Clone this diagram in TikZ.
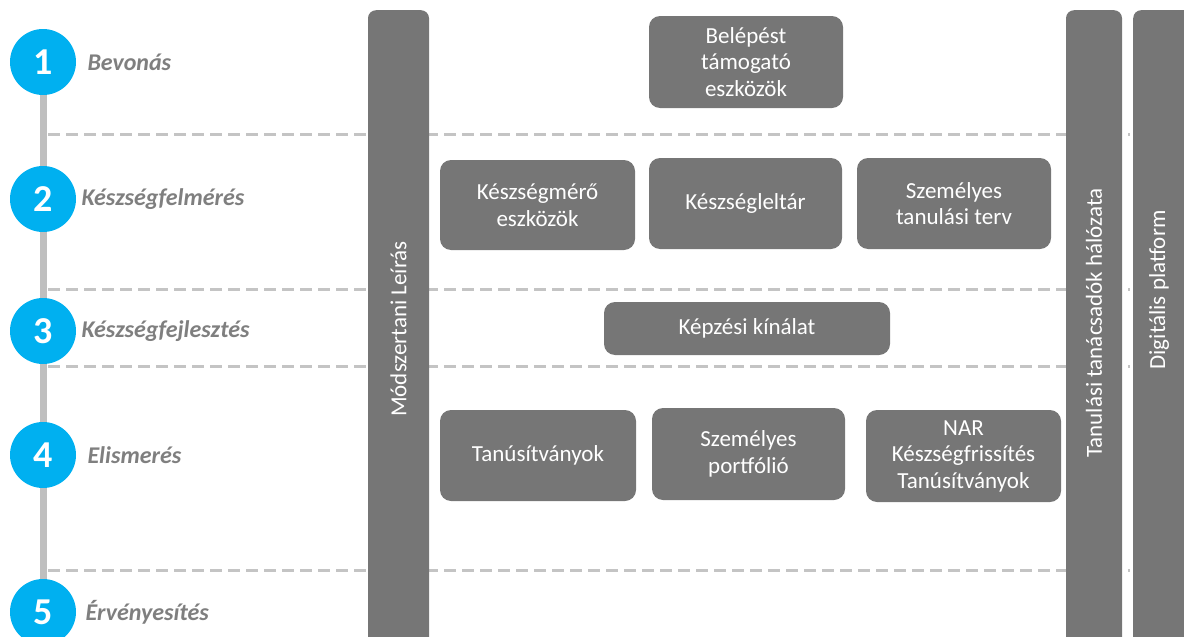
\documentclass[tikz,border=0pt]{standalone}
\usepackage{fontspec}
\setmainfont{Carlito}
\begin{document}
\begin{tikzpicture}[x=1pt,y=-1pt,
  stepcircle/.style={circle,fill=stepblue,minimum size=66pt,inner sep=0pt,
    text=white,font=\fontsize{38}{40}\selectfont\bfseries},
  steplabel/.style={anchor=west,text=labelgrey,
    font=\fontsize{24}{28}\selectfont\bfseries\itshape},
  card/.style={rounded corners=11pt,fill=cardgrey,text=white,align=center,
    inner sep=0pt,font=\fontsize{23}{26.5}\selectfont},
  pillar/.style={rounded corners=8pt,fill=cardgrey,inner sep=0pt},
  pillartext/.style={rotate=90,text=white,font=\fontsize{23}{26}\selectfont},
  divider/.style={draw=dashgrey,line width=3pt,dash pattern=on 12pt off 6pt},
  rail/.style={draw=railgrey,line width=7pt}]
\definecolor{stepblue}{HTML}{00B0F0}
\definecolor{cardgrey}{HTML}{767676}
\definecolor{labelgrey}{HTML}{7F7F7F}
\definecolor{dashgrey}{HTML}{C4C4C4}
\definecolor{railgrey}{HTML}{BFBFBF}
\useasboundingbox (0,0) rectangle (1184,637);
\clip (0,0) rectangle (1184,637);

% phase dividers
\foreach \y/\n in {134/a,289/b,366/c,570/d}{
  \coordinate (d\n l) at (48,\y);
  \coordinate (d\n r) at (1130,\y);
  \draw[divider] (d\n l) -- (d\n r);
}

% step circles on the rail
\node[stepcircle] (s1) at (43,62) {1};
\node[stepcircle] (s2) at (43,199) {2};
\node[stepcircle] (s3) at (43,331) {3};
\node[stepcircle] (s4) at (43,455) {4};
\node[stepcircle] (s5) at (43,612) {5};
\draw[rail] (s1.south) -- (s2.north);
\draw[rail] (s2.south) -- (s3.north);
\draw[rail] (s3.south) -- (s4.north);
\draw[rail] (s4.south) -- (s5.north);

\node[steplabel] (l1) at (84,62) {Bevonás};
\node[steplabel] (l2) at (78,199) {Készségfelmérés};
\node[steplabel] (l3) at (78,331) {Készségfejlesztés};
\node[steplabel] (l4) at (84,455) {Elismerés};
\node[steplabel] (l5) at (82,612) {Érvényesítés};

% vertical pillars
\node[pillar,minimum width=61pt,minimum height=660pt,anchor=north] (p1) at (398.5,10) {};
\node[pillartext] (p1t) at (398.5,329) {Módszertani Leírás};
\node[pillar,minimum width=56pt,minimum height=660pt,anchor=north] (p2) at (1094,10) {};
\node[pillartext] (p2t) at (1094,323) {Tanulási tanácsadók hálózata};
\node[pillar,minimum width=70pt,minimum height=660pt,anchor=north west] (p3) at (1133,10) {};
\node[pillartext] (p3t) at (1159,290) {Digitális platform};

% tool cards
\node[card,minimum width=194pt,minimum height=92pt] (c1) at (746,62) {Belépést\\támogató\\eszközök};
\node[card,minimum width=195pt,minimum height=90pt] (c2) at (537.5,205) {Készségmérő\\eszközök};
\node[card,minimum width=193pt,minimum height=91pt] (c3) at (745.5,203.5) {Készségleltár};
\node[card,minimum width=194pt,minimum height=91pt] (c4) at (954,203.5) {Személyes\\tanulási terv};
\node[card,minimum width=286pt,minimum height=53pt] (c5) at (747,328.5) {Képzési kínálat};
\node[card,minimum width=196pt,minimum height=91pt] (c6) at (538,455.5) {Tanúsítványok};
\node[card,minimum width=193pt,minimum height=92pt] (c7) at (748.5,454) {Személyes\\portfólió};
\node[card,minimum width=195pt,minimum height=92pt] (c8) at (963.5,456) {NAR\\Készségfrissítés\\Tanúsítványok};
\end{tikzpicture}
\end{document}
